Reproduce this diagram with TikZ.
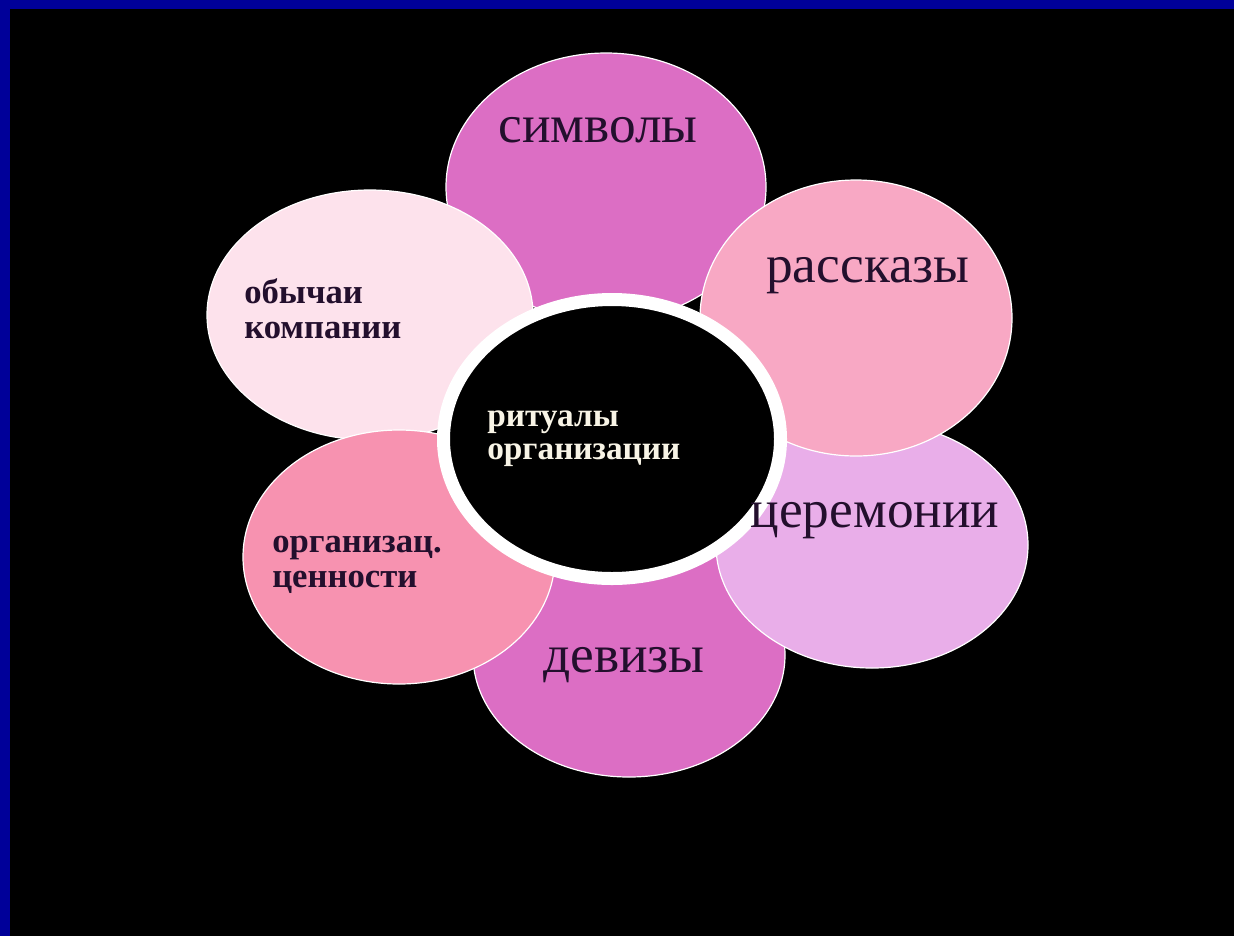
\documentclass[tikz,border=0pt]{standalone}
\usepackage{fontspec}
\setmainfont{Liberation Serif}
\usetikzlibrary{shapes.geometric}
\definecolor{frameblue}{RGB}{0,0,153}
\definecolor{magpink}{RGB}{220,110,196}
\definecolor{rosepink}{RGB}{248,168,196}
\definecolor{lavender}{RGB}{233,174,233}
\definecolor{blushpink}{RGB}{253,226,236}
\definecolor{warmpink}{RGB}{247,146,176}
\definecolor{labeltext}{RGB}{35,15,45}
\definecolor{centertext}{RGB}{248,244,230}
\tikzset{
  petal/.style={ellipse, draw=white, line width=0.9pt, inner sep=0pt, outer sep=0pt},
  biglabel/.style={text=labeltext, inner sep=0pt, anchor=base, font=\fontsize{40}{40}\selectfont},
  smalllabel/.style={text=labeltext, inner sep=0pt, anchor=west, align=left, font=\bfseries\fontsize{26}{26.5}\selectfont},
  centerlabel/.style={text=centertext, inner sep=0pt, anchor=west, align=left, font=\bfseries\fontsize{25}{25}\selectfont}
}
\begin{document}
\begin{tikzpicture}[x=0.75pt,y=-0.75pt]
\useasboundingbox (0,0) rectangle (1234,936);
\fill[frameblue] (0,0) rectangle (1234,936);
\fill[black] (10,9) rectangle (1234,936);
% petals (stacking order matters)
\node[petal, fill=magpink, minimum width=240pt, minimum height=201pt] (simv) at (606,187) {};
\node[petal, fill=magpink, minimum width=234pt, minimum height=183pt] (dev) at (629,655) {};
\node[petal, fill=lavender, minimum width=234pt, minimum height=184.5pt] (cer) at (872,545) {};
\node[petal, fill=rosepink, minimum width=234pt, minimum height=207pt] (rass) at (856,318) {};
\node[petal, fill=blushpink, minimum width=244.5pt, minimum height=187.5pt] (obych) at (370,315) {};
\node[petal, fill=warmpink, minimum width=234pt, minimum height=190.5pt] (org) at (399,557) {};
% centre
\node[ellipse, draw=white, fill=black, line width=9.75pt, inner sep=0pt, minimum width=252.75pt, minimum height=209.25pt] (centre) at (612,439) {};
% labels
\node[biglabel] (tsimv) at (598,142) {символы};
\node[biglabel] (trass) at (868,282) {рассказы};
\node[biglabel] (tcer) at (875,527) {церемонии};
\node[biglabel] (tdev) at (624,672) {девизы};
\node[smalllabel] (tobych) at (244,309) {обычаи\\компании};
\node[smalllabel] (torg) at (272,565) {организац.\\ценности};
\node[centerlabel] (tcentre) at (487,439) {ритуалы\\организации};
\end{tikzpicture}
\end{document}
